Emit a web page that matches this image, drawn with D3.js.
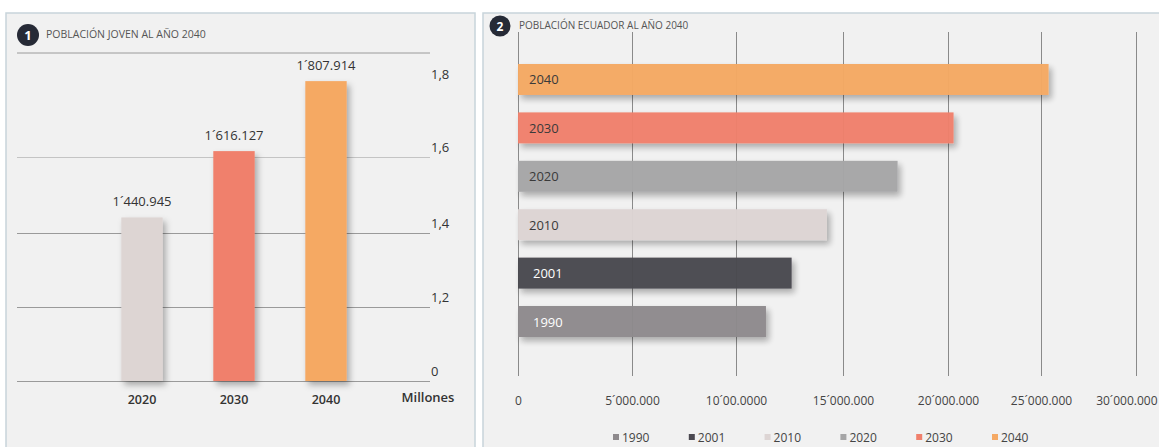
<!DOCTYPE html>
<html>
<head>
<meta charset="utf-8">
<script src="https://cdn.jsdelivr.net/npm/d3@7"></script>
<style>
  body { margin: 0; background: #fff; }
  svg { display: block; font-family: "Open Sans", "Noto Sans", sans-serif; }
</style>
</head>
<body>
<svg id="chart" width="1159" height="447"></svg>
<script>
// Datos gráfico 1: población joven (millones)
const jovenAnios = ["2020", "2030", "2040"];
const jovenValores = [1.440945, 1.616127, 1.807914];
const jovenEtiquetas = ["1´440.945", "1´616.127", "1´807.914"];
const jovenColores = ["#ddd5d3", "#f0806c", "#f5a964"];
const jovenTicks = [0, 1.2, 1.4, 1.6, 1.8];
const jovenTickLabels = ["0", "1,2", "1,4", "1,6", "1,8"];

// Datos gráfico 2: población Ecuador
const ecuAnios = ["2040", "2030", "2020", "2010", "2001", "1990"];
const ecuValores = [25.4e6, 20.3e6, 17.6e6, 14.25e6, 12.6e6, 11.4e6];
const ecuTicks = [0, 5e6, 10e6, 15e6, 20e6, 25e6, 30e6];
const ecuTickLabels = ["0", "5´000.000", "10´00.0000", "15´000.000", "20´000.000", "25´000.000", "30´000.000"];
const leyendaAnios = ["1990", "2001", "2010", "2020", "2030", "2040"];

// Colores por año (gráfico 2)
const colores = {
  "1990": "#8e8a8d",
  "2001": "#4a4850",
  "2010": "#ddd5d4",
  "2020": "#a6a6a7",
  "2030": "#f0806c",
  "2040": "#f5a964"
};
const textoClaro = ["2001", "1990"];

const svg = d3.select("#chart");

// sombra de las barras
const defs = svg.append("defs");
defs.append("filter")
    .attr("id", "sombra")
    .attr("x", "-20%").attr("y", "-20%")
    .attr("width", "150%").attr("height", "160%")
  .append("feDropShadow")
    .attr("dx", 3).attr("dy", 4)
    .attr("stdDeviation", 3)
    .attr("flood-color", "#000")
    .attr("flood-opacity", 0.3);

// Paneles
svg.append("rect")
   .attr("x", 6).attr("y", 13).attr("width", 469).attr("height", 460)
   .attr("fill", "#f1f1f1").attr("stroke", "#c7d4da").attr("stroke-width", 1.5);
svg.append("rect")
   .attr("x", 483).attr("y", 13).attr("width", 700).attr("height", 460)
   .attr("fill", "#f1f1f1").attr("stroke", "#c7d4da").attr("stroke-width", 1.5);

// ---------- Gráfico 1 ----------
const g1 = svg.append("g");

g1.append("circle").attr("cx", 28).attr("cy", 35).attr("r", 11).attr("fill", "#262a36");
g1.append("text").attr("x", 28).attr("y", 39.5)
  .attr("text-anchor", "middle").attr("fill", "#fff")
  .style("font-size", "13px").style("font-weight", "bold").text("1");
g1.append("text").attr("x", 46).attr("y", 38)
  .attr("fill", "#555").style("font-size", "10.5px").text("POBLACIÓN JOVEN AL AÑO 2040");
g1.append("line").attr("x1", 17).attr("x2", 430).attr("y1", 53).attr("y2", 53)
  .attr("stroke", "#9a9a9a").attr("stroke-width", 1);

// escala con cortes (0 → 1,2 comprimido)
const y1 = d3.scaleLinear()
  .domain(jovenTicks)
  .range([381, 307, 233, 157, 84]);

const x1 = d3.scaleBand()
  .domain(jovenAnios)
  .range([96, 372])
  .paddingInner(0.55)
  .paddingOuter(0.275);

const ejeY1 = g1.append("g")
  .attr("transform", "translate(430,0)")
  .call(d3.axisRight(y1)
    .tickValues(jovenTicks)
    .tickSize(-413)
    .tickPadding(1)
    .tickFormat((d, i) => jovenTickLabels[i]));
ejeY1.select(".domain").remove();
ejeY1.selectAll(".tick line")
  .attr("stroke", d => d === 1.8 ? "none" : (d === 1.6 ? "#c4c4c4" : "#9a9a9a"));
ejeY1.selectAll(".tick text")
  .attr("dy", "-0.45em")
  .attr("fill", "#333")
  .style("font-size", "13px")
  .style("font-family", "Open Sans");

g1.selectAll("rect.barra")
  .data(jovenAnios)
  .enter().append("rect")
    .attr("class", "barra")
    .attr("x", d => x1(d))
    .attr("width", x1.bandwidth())
    .attr("y", (d, i) => y1(jovenValores[i]))
    .attr("height", (d, i) => y1(0) - y1(jovenValores[i]))
    .attr("fill", (d, i) => jovenColores[i])
    .attr("filter", "url(#sombra)");

g1.selectAll("text.valor")
  .data(jovenAnios)
  .enter().append("text")
    .attr("class", "valor")
    .attr("x", d => x1(d) + x1.bandwidth() / 2)
    .attr("y", (d, i) => y1(jovenValores[i]) - 11)
    .attr("text-anchor", "middle")
    .attr("fill", "#333")
    .style("font-size", "13px")
    .text((d, i) => jovenEtiquetas[i]);

const ejeX1 = g1.append("g")
  .attr("transform", "translate(0,381)")
  .call(d3.axisBottom(x1).tickSize(0).tickPadding(14));
ejeX1.select(".domain").remove();
ejeX1.selectAll("text")
  .attr("fill", "#333")
  .style("font-size", "12.5px")
  .style("font-weight", "600")
  .style("font-family", "Open Sans");

g1.append("text").attr("x", 428).attr("y", 402)
  .attr("text-anchor", "middle").attr("fill", "#333")
  .style("font-size", "13px").style("font-weight", "600").text("Millones");

// ---------- Gráfico 2 ----------
const g2 = svg.append("g");

g2.append("circle").attr("cx", 500).attr("cy", 26).attr("r", 10.5).attr("fill", "#262a36");
g2.append("text").attr("x", 500).attr("y", 30.5)
  .attr("text-anchor", "middle").attr("fill", "#fff")
  .style("font-size", "12px").style("font-weight", "bold").text("2");
g2.append("text").attr("x", 519).attr("y", 29)
  .attr("fill", "#555").style("font-size", "10px").text("POBLACIÓN ECUADOR AL AÑO 2040");

const x2 = d3.scaleLinear()
  .domain(ecuTicks)
  .range([518, 632, 736, 843, 948, 1041, 1136]);

const y2 = d3.scaleBand()
  .domain(ecuAnios)
  .range([64, 337])
  .paddingInner(0.36)
  .paddingOuter(0);

const ejeX2 = g2.append("g")
  .attr("transform", "translate(0,376)")
  .call(d3.axisBottom(x2)
    .tickValues(ecuTicks)
    .tickSize(-344)
    .tickPadding(20)
    .tickFormat((d, i) => ecuTickLabels[i]));
ejeX2.select(".domain").remove();
ejeX2.selectAll(".tick line").attr("stroke", "#8a8a8a");
ejeX2.selectAll(".tick text")
  .attr("fill", "#444")
  .style("font-size", "12px")
  .style("font-family", "Open Sans");
// la última etiqueta queda pegada al borde derecho
ejeX2.selectAll(".tick text")
  .filter(d => d === 30e6)
  .attr("text-anchor", "end")
  .attr("x", 21);

g2.selectAll("rect.barra2")
  .data(ecuAnios)
  .enter().append("rect")
    .attr("class", "barra2")
    .attr("x", x2(0))
    .attr("y", d => y2(d))
    .attr("width", (d, i) => x2(ecuValores[i]) - x2(0))
    .attr("height", y2.bandwidth())
    .attr("fill", d => colores[d])
    .attr("opacity", 0.97)
    .attr("filter", "url(#sombra)");

g2.selectAll("text.etiqueta2")
  .data(ecuAnios)
  .enter().append("text")
    .attr("class", "etiqueta2")
    .attr("x", d => x2(0) + (textoClaro.includes(d) ? 15 : 11))
    .attr("y", d => y2(d) + y2.bandwidth() / 2 + 5)
    .attr("fill", d => textoClaro.includes(d) ? "#fff" : "#3a3a3a")
    .style("font-size", "13px")
    .text(d => d);

// Leyenda
const xLey = d3.scalePoint().domain(leyendaAnios).range([613, 992]);
const ley = g2.selectAll("g.leyenda")
  .data(leyendaAnios)
  .enter().append("g")
    .attr("class", "leyenda")
    .attr("transform", d => `translate(${xLey(d)},437)`);
ley.append("rect")
  .attr("x", 0).attr("y", -3).attr("width", 6).attr("height", 6)
  .attr("fill", d => colores[d]);
ley.append("text")
  .attr("x", 9).attr("y", 4.5)
  .attr("fill", "#444")
  .style("font-size", "12px")
  .text(d => d);
</script>
</body>
</html>
